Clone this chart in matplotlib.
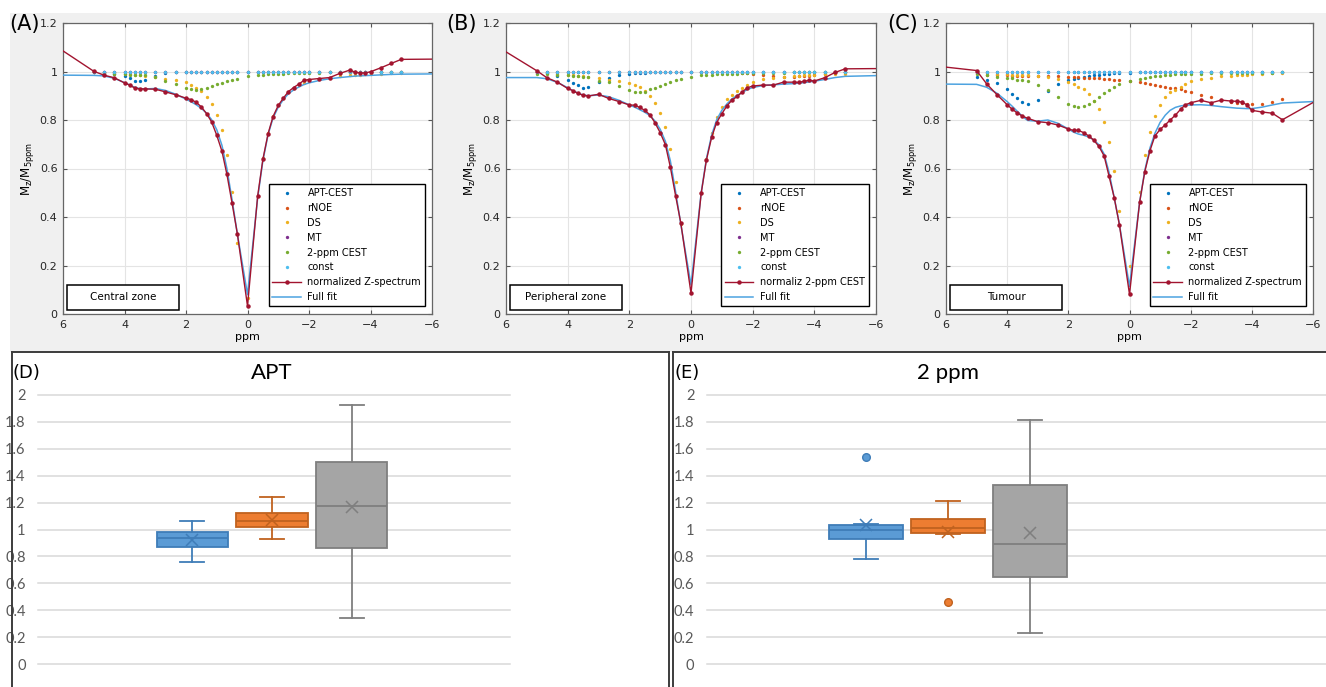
import matplotlib.pyplot as plt
import matplotlib.transforms as mtransforms
from matplotlib.lines import Line2D
from matplotlib.patches import Rectangle
from matplotlib.ticker import FuncFormatter

# offsets (ppm) of the Z-spectrum samples, + end points of the lines
ppm = [5, 4.67, 4.33, 4, 3.83, 3.67, 3.5, 3.33, 3, 2.67, 2.33, 2, 1.83, 1.67, 1.5,
       1.33, 1.17, 1, 0.83, 0.67, 0.5, 0.33, 0, -0.33, -0.5, -0.67, -0.83, -1, -1.17,
       -1.33, -1.5, -1.67, -1.83, -2, -2.33, -2.67, -3, -3.33, -3.5, -3.67, -3.83, -4,
       -4.33, -4.67, -5]
ppm_ends = [6, -6]

# ---- (A) central zone
z_a = [1.001, 0.985, 0.974, 0.953, 0.944, 0.932, 0.928, 0.928, 0.927, 0.916, 0.904, 0.890, 0.884, 0.873, 0.854,
       0.826, 0.793, 0.737, 0.671, 0.576, 0.456, 0.331, 0.033, 0.486, 0.638, 0.744, 0.814, 0.860, 0.891,
       0.917, 0.934, 0.948, 0.963, 0.967, 0.971, 0.975, 0.992, 1.006, 0.997, 0.994, 0.994, 0.999,
       1.015, 1.033, 1.050]
z_a_ends = [1.085, 1.051]
fit_a = [0.984, 0.982, 0.972, 0.954, 0.944, 0.935, 0.929, 0.928, 0.930, 0.922, 0.906, 0.886, 0.875, 0.863, 0.848,
         0.828, 0.802, 0.760, 0.695, 0.600, 0.470, 0.330, 0.080, 0.478, 0.632, 0.740, 0.808, 0.853, 0.885,
         0.908, 0.924, 0.936, 0.946, 0.953, 0.963, 0.970, 0.975, 0.979, 0.981, 0.982, 0.983, 0.984,
         0.986, 0.988, 0.989]
fit_a_ends = [0.985, 0.990]
apt_a = [1.0, 0.997, 0.989, 0.983, 0.972, 0.961, 0.959, 0.963, 0.983, 0.992, 0.996, 0.998, 0.999, 0.999, 0.999,
         1.0, 1.0, 1.0, 1.0, 1.0, 1.0, 1.0, 1.0, 1.0, 1.0, 1.0, 1.0, 1.0, 1.0,
         1.0, 1.0, 1.0, 1.0, 1.0, 1.0, 1.0, 1.0, 1.0, 1.0, 1.0, 1.0, 1.0,
         1.0, 1.0, 1.0]
rnoe_a = [1.0, 1.0, 1.0, 1.0, 1.0, 1.0, 1.0, 1.0, 1.0, 1.0, 1.0, 1.0, 1.0, 1.0, 1.0,
          1.0, 1.0, 1.0, 1.0, 1.0, 1.0, 1.0, 1.0, 1.0, 1.0, 1.0, 1.0, 0.999, 0.999,
          0.999, 0.998, 0.998, 0.998, 0.997, 0.997, 0.997, 0.997, 0.997, 0.997, 0.997, 0.998, 0.998,
          0.998, 0.999, 0.999]
ds_a = [0.996, 0.995, 0.993, 0.990, 0.988, 0.986, 0.984, 0.982, 0.977, 0.970, 0.965, 0.956, 0.944, 0.931, 0.918,
        0.895, 0.865, 0.822, 0.758, 0.657, 0.503, 0.293, 0.065, 0.486, 0.643, 0.747, 0.818, 0.860, 0.890,
        0.914, 0.930, 0.943, 0.952, 0.959, 0.969, 0.975, 0.980, 0.984, 0.986, 0.987, 0.988, 0.989,
        0.991, 0.992, 0.993]
mt_a = [1.0, 1.0, 1.0, 1.0, 1.0, 1.0, 1.0, 1.0, 1.0, 1.0, 1.0, 1.0, 1.0, 1.0, 1.0,
        1.0, 1.0, 1.0, 1.0, 1.0, 1.0, 1.0, 1.0, 1.0, 1.0, 1.0, 1.0, 1.0, 1.0,
        1.0, 1.0, 1.0, 1.0, 1.0, 1.0, 1.0, 1.0, 1.0, 1.0, 1.0, 1.0, 1.0,
        1.0, 1.0, 1.0]
cest_a = [0.996, 0.992, 0.990, 0.988, 0.987, 0.986, 0.985, 0.985, 0.976, 0.962, 0.948, 0.933, 0.928, 0.925, 0.926,
          0.934, 0.940, 0.947, 0.954, 0.961, 0.966, 0.971, 0.980, 0.985, 0.987, 0.988, 0.989, 0.990, 0.991,
          0.992, 0.993, 0.993, 0.994, 0.994, 0.995, 0.996, 0.996, 0.997, 0.997, 0.997, 0.997, 0.998,
          0.998, 0.998, 0.998]
const_a = [1.0, 1.0, 1.0, 1.0, 1.0, 1.0, 1.0, 1.0, 1.0, 1.0, 1.0, 1.0, 1.0, 1.0, 1.0,
           1.0, 1.0, 1.0, 1.0, 1.0, 1.0, 1.0, 1.0, 1.0, 1.0, 1.0, 1.0, 1.0, 1.0,
           1.0, 1.0, 1.0, 1.0, 1.0, 1.0, 1.0, 1.0, 1.0, 1.0, 1.0, 1.0, 1.0,
           1.0, 1.0, 1.0]

# ---- (B) peripheral zone
z_b = [1.003, 0.974, 0.956, 0.930, 0.921, 0.910, 0.902, 0.899, 0.906, 0.889, 0.876, 0.862, 0.861, 0.852, 0.840,
       0.821, 0.789, 0.748, 0.698, 0.606, 0.488, 0.375, 0.086, 0.497, 0.635, 0.729, 0.789, 0.826, 0.859,
       0.882, 0.897, 0.917, 0.933, 0.940, 0.944, 0.944, 0.956, 0.956, 0.955, 0.960, 0.963, 0.961,
       0.974, 0.996, 1.011]
z_b_ends = [1.081, 1.012]
fit_b = [0.975, 0.970, 0.955, 0.933, 0.921, 0.911, 0.903, 0.900, 0.903, 0.896, 0.881, 0.862, 0.853, 0.843, 0.832,
         0.818, 0.796, 0.762, 0.712, 0.632, 0.505, 0.370, 0.120, 0.500, 0.640, 0.738, 0.800, 0.840, 0.867,
         0.887, 0.902, 0.914, 0.926, 0.934, 0.942, 0.945, 0.948, 0.950, 0.952, 0.954, 0.957, 0.960,
         0.967, 0.975, 0.980]
fit_b_ends = [0.975, 0.983]
apt_b = [0.996, 0.992, 0.981, 0.963, 0.953, 0.943, 0.934, 0.937, 0.956, 0.975, 0.985, 0.990, 0.992, 0.994, 0.995,
         0.996, 0.997, 0.998, 0.998, 0.998, 0.999, 0.999, 0.999, 0.999, 0.999, 0.999, 0.999, 0.999, 0.999,
         0.999, 0.999, 0.999, 0.999, 0.999, 0.999, 0.999, 0.999, 0.999, 0.999, 0.999, 0.999, 0.999,
         0.999, 0.999, 0.999]
rnoe_b = [1.0, 1.0, 1.0, 1.0, 1.0, 1.0, 1.0, 1.0, 1.0, 1.0, 1.0, 1.0, 1.0, 1.0, 1.0,
          1.0, 1.0, 1.0, 1.0, 1.0, 1.0, 1.0, 1.0, 1.0, 1.0, 0.999, 0.999, 0.999, 0.998,
          0.997, 0.996, 0.994, 0.992, 0.990, 0.986, 0.982, 0.979, 0.979, 0.980, 0.981, 0.982, 0.984,
          0.988, 0.993, 0.997]
ds_b = [0.995, 0.993, 0.990, 0.986, 0.984, 0.982, 0.980, 0.978, 0.972, 0.964, 0.962, 0.953, 0.946, 0.935, 0.920,
        0.897, 0.870, 0.828, 0.770, 0.681, 0.544, 0.370, 0.141, 0.500, 0.639, 0.745, 0.814, 0.855, 0.886,
        0.905, 0.919, 0.930, 0.945, 0.957, 0.970, 0.975, 0.978, 0.981, 0.983, 0.984, 0.985, 0.986,
        0.988, 0.990, 0.991]
mt_b = [1.0, 1.0, 1.0, 1.0, 1.0, 1.0, 1.0, 1.0, 1.0, 1.0, 1.0, 1.0, 1.0, 1.0, 1.0,
        1.0, 1.0, 1.0, 1.0, 1.0, 1.0, 1.0, 1.0, 1.0, 1.0, 1.0, 1.0, 1.0, 1.0,
        1.0, 1.0, 1.0, 1.0, 1.0, 1.0, 1.0, 1.0, 1.0, 1.0, 1.0, 1.0, 1.0,
        1.0, 1.0, 1.0]
cest_b = [0.990, 0.988, 0.985, 0.984, 0.982, 0.980, 0.978, 0.976, 0.962, 0.956, 0.940, 0.923, 0.917, 0.914, 0.917,
          0.927, 0.934, 0.942, 0.949, 0.956, 0.965, 0.970, 0.979, 0.984, 0.986, 0.987, 0.988, 0.989, 0.990,
          0.991, 0.991, 0.992, 0.992, 0.993, 0.994, 0.995, 0.995, 0.996, 0.996, 0.996, 0.997, 0.997,
          0.997, 0.998, 0.998]
const_b = [1.0, 1.0, 1.0, 1.0, 1.0, 1.0, 1.0, 1.0, 1.0, 1.0, 1.0, 1.0, 1.0, 1.0, 1.0,
           1.0, 1.0, 1.0, 1.0, 1.0, 1.0, 1.0, 1.0, 1.0, 1.0, 1.0, 1.0, 1.0, 1.0,
           1.0, 1.0, 1.0, 1.0, 1.0, 1.0, 1.0, 1.0, 1.0, 1.0, 1.0, 1.0, 1.0,
           1.0, 1.0, 1.0]

# ---- (C) tumour
z_c = [1.004, 0.949, 0.904, 0.863, 0.844, 0.829, 0.816, 0.807, 0.793, 0.789, 0.779, 0.763, 0.757, 0.757, 0.748,
       0.734, 0.717, 0.691, 0.652, 0.569, 0.480, 0.368, 0.081, 0.460, 0.587, 0.674, 0.734, 0.761, 0.780,
       0.800, 0.820, 0.844, 0.863, 0.871, 0.881, 0.871, 0.882, 0.878, 0.877, 0.874, 0.863, 0.840,
       0.833, 0.828, 0.801]
z_c_ends = [1.018, 0.872]
fit_c = [0.947, 0.935, 0.910, 0.876, 0.856, 0.836, 0.815, 0.798, 0.795, 0.800, 0.786, 0.763, 0.750, 0.742, 0.737,
         0.730, 0.718, 0.698, 0.660, 0.585, 0.480, 0.370, 0.114, 0.460, 0.592, 0.685, 0.745, 0.790, 0.820,
         0.840, 0.852, 0.858, 0.861, 0.862, 0.863, 0.860, 0.855, 0.851, 0.849, 0.848, 0.847, 0.847,
         0.853, 0.862, 0.870]
fit_c_ends = [0.948, 0.876]
apt_c = [0.977, 0.966, 0.951, 0.926, 0.908, 0.890, 0.875, 0.867, 0.883, 0.918, 0.947, 0.963, 0.970, 0.975, 0.979,
         0.982, 0.985, 0.987, 0.989, 0.990, 0.992, 0.993, 0.995, 0.996, 0.996, 0.996, 0.996, 0.996, 0.997,
         0.997, 0.997, 0.997, 0.997, 0.997, 0.997, 0.997, 0.998, 0.998, 0.998, 0.998, 0.998, 0.998,
         0.998, 0.998, 0.998]
rnoe_c = [0.992, 0.986, 0.985, 0.984, 0.983, 0.983, 0.982, 0.982, 0.982, 0.982, 0.980, 0.978, 0.977, 0.976, 0.975,
          0.974, 0.973, 0.972, 0.970, 0.968, 0.966, 0.963, 0.960, 0.956, 0.952, 0.948, 0.944, 0.941, 0.937,
          0.933, 0.930, 0.926, 0.921, 0.916, 0.904, 0.894, 0.884, 0.874, 0.872, 0.870, 0.868, 0.864,
          0.864, 0.874, 0.885]
ds_c = [0.998, 0.993, 0.990, 0.988, 0.987, 0.986, 0.985, 0.984, 0.981, 0.977, 0.970, 0.956, 0.948, 0.937, 0.926,
        0.907, 0.880, 0.846, 0.791, 0.711, 0.588, 0.423, 0.199, 0.505, 0.654, 0.752, 0.818, 0.863, 0.893,
        0.915, 0.923, 0.935, 0.948, 0.960, 0.970, 0.975, 0.980, 0.982, 0.985, 0.986, 0.987, 0.988,
        0.990, 0.992, 0.993]
mt_c = [1.0, 1.0, 1.0, 1.0, 1.0, 1.0, 1.0, 1.0, 1.0, 1.0, 1.0, 1.0, 1.0, 1.0, 1.0,
        1.0, 1.0, 1.0, 1.0, 1.0, 1.0, 1.0, 1.0, 1.0, 1.0, 1.0, 1.0, 1.0, 1.0,
        1.0, 1.0, 1.0, 1.0, 1.0, 1.0, 1.0, 1.0, 1.0, 1.0, 1.0, 1.0, 1.0,
        1.0, 1.0, 1.0]
cest_c = [0.989, 0.985, 0.979, 0.974, 0.972, 0.967, 0.964, 0.960, 0.945, 0.925, 0.894, 0.864, 0.856, 0.853, 0.857,
          0.866, 0.878, 0.896, 0.910, 0.925, 0.938, 0.948, 0.961, 0.971, 0.975, 0.978, 0.980, 0.983, 0.985,
          0.987, 0.988, 0.989, 0.990, 0.990, 0.991, 0.992, 0.993, 0.993, 0.994, 0.994, 0.994, 0.995,
          0.995, 0.995, 0.996]
const_c = [0.999, 0.999, 0.999, 0.999, 0.999, 0.999, 0.999, 0.999, 0.999, 0.999, 0.999, 0.999, 0.999, 0.999, 0.999,
           0.999, 0.999, 0.999, 0.999, 0.999, 0.999, 0.999, 0.999, 0.999, 0.999, 0.999, 0.999, 0.999, 0.999,
           0.999, 0.999, 0.999, 0.999, 0.999, 0.999, 0.999, 0.999, 0.999, 0.999, 0.999, 0.999, 0.999,
           0.999, 0.999, 0.999]

comp_labels = ['APT-CEST', 'rNOE', 'DS', 'MT', '2-ppm CEST', 'const']
comp_colors = ['#0072BD', '#D95319', '#EDB120', '#7E2F8E', '#77AC30', '#4DBEEE']

# ---- box plots (D) APT and (E) 2 ppm : central zone, peripheral zone, tumour
apt_whislo = [0.760, 0.933, 0.339]
apt_q1 = [0.869, 1.017, 0.859]
apt_med = [0.936, 1.062, 1.176]
apt_q3 = [0.980, 1.126, 1.500]
apt_whishi = [1.062, 1.238, 1.926]
apt_mean = [0.923, 1.069, 1.171]
apt_fliers = [[], [], []]

p2_whislo = [0.782, 0.966, 0.229]
p2_q1 = [0.929, 0.974, 0.645]
p2_med = [0.996, 1.014, 0.894]
p2_q3 = [1.031, 1.076, 1.333]
p2_whishi = [1.038, 1.213, 1.813]
p2_mean = [1.031, 0.979, 0.974]
p2_fliers = [[1.537], [0.461], []]

box_fill = ['#5B9BD5', '#ED7D31', '#A5A5A5']
box_edge = ['#3F7DB8', '#C0621F', '#7F7F7F']

W, H = 1326, 687
fig = plt.figure(figsize=(W / 100, H / 100), dpi=100)


def px_axes(l, t, r, b):
    return fig.add_axes([l / W, 1 - b / H, (r - l) / W, (b - t) / H])


def fig_line(x0, y0, x1, y1):
    fig.add_artist(Line2D([x0 / W, x1 / W], [1 - y0 / H, 1 - y1 / H], transform=fig.transFigure,
                          color='#3c3c3c', lw=1.4, zorder=5))


# fond gris des figures matlab
fig.add_artist(Rectangle((10 / W, 1 - 352 / H), 1 - 10 / W, (352 - 13) / H, transform=fig.transFigure,
                         facecolor='#f0f0f0', edgecolor='none', zorder=-1))


def z_panel(rect, tag, tag_x, zone, z, z_ends, fit, fit_ends, comps, z_label):
    ax = px_axes(*rect)
    aw = rect[2] - rect[0]
    ah = rect[3] - rect[1]
    for vals, col, lab in zip(comps, comp_colors, comp_labels):
        ax.plot(ppm, vals, 'o', ms=2.4, mew=0, color=col, label=lab, zorder=2)
    x_line = [ppm_ends[0]] + ppm + [ppm_ends[1]]
    ax.plot(x_line, [z_ends[0]] + z + [z_ends[1]], color='#A2142F', lw=1, marker='o', ms=2.2,
            markevery=list(range(1, len(ppm) + 1)), label=z_label, zorder=4)
    ax.plot(x_line, [fit_ends[0]] + fit + [fit_ends[1]], color='#4DA3E0', lw=1.1, label='Full fit', zorder=3)

    ax.set_xlim(6, -6)
    ax.set_ylim(0, 1.2)
    ax.set_xticks([6, 4, 2, 0, -2, -4, -6])
    ax.set_yticks([0, 0.2, 0.4, 0.6, 0.8, 1, 1.2])
    ax.yaxis.set_major_formatter(FuncFormatter(lambda v, p: '%g' % round(v, 1)))
    ax.grid(color='#e4e4e4', lw=0.8)
    ax.set_axisbelow(True)
    ax.tick_params(direction='in', length=3, top=True, right=True, labelsize=8, labelcolor='#262626',
                   color='#555555', pad=4)
    for s in ax.spines.values():
        s.set_color('#666666')
        s.set_linewidth(0.9)
    ax.set_xlabel('ppm', fontsize=8, labelpad=2)
    ax.set_ylabel(r'M$_\mathregular{z}$/M$_\mathregular{5ppm}$', fontsize=8.5, labelpad=3)

    leg = ax.legend(loc='lower right', bbox_to_anchor=(1 - 7 / aw, 8 / ah), fontsize=7, frameon=True,
                    fancybox=False, edgecolor='black', framealpha=1, borderpad=0.4, labelspacing=0.5,
                    handlelength=2.9, handletextpad=0.7, borderaxespad=0, numpoints=1)
    leg.get_frame().set_linewidth(1.0)

    ax.add_patch(Rectangle((4 / aw, 4 / ah), 112 / aw, 25 / ah, transform=ax.transAxes,
                           facecolor='white', edgecolor='black', lw=1.1, zorder=5))
    ax.text(60 / aw, 16.5 / ah, zone, transform=ax.transAxes, ha='center', va='center', fontsize=7.5, zorder=6)
    fig.text(tag_x / W, 1 - 24 / H, tag, fontsize=15, ha='left', va='center')
    return ax


z_panel((63, 23, 432, 314), '(A)', 9, 'Central zone', z_a, z_a_ends, fit_a, fit_a_ends,
        [apt_a, rnoe_a, ds_a, mt_a, cest_a, const_a], 'normalized Z-spectrum')
z_panel((506, 23, 876, 314), '(B)', 446, 'Peripheral zone', z_b, z_b_ends, fit_b, fit_b_ends,
        [apt_b, rnoe_b, ds_b, mt_b, cest_b, const_b], 'normaliz 2-ppm CEST')
z_panel((946, 23, 1313, 314), '(C)', 887, 'Tumour', z_c, z_c_ends, fit_c, fit_c_ends,
        [apt_c, rnoe_c, ds_c, mt_c, cest_c, const_c], 'normalized Z-spectrum')


def box_panel(rect, xlim, tag, tag_x, title, whislo, q1, med, q3, whishi, mean, fliers):
    ax = px_axes(*rect)
    pos = [-1, 0, 1]
    for i in range(3):
        st = dict(whislo=whislo[i], q1=q1[i], med=med[i], q3=q3[i], whishi=whishi[i],
                  mean=mean[i], fliers=fliers[i])
        ax.bxp([st], positions=[pos[i]], widths=0.9, capwidths=0.3, showmeans=True, patch_artist=True,
               manage_ticks=False,
               boxprops=dict(facecolor=box_fill[i], edgecolor=box_edge[i], lw=1.3),
               medianprops=dict(color=box_edge[i], lw=1.3),
               whiskerprops=dict(color=box_edge[i], lw=1.3),
               capprops=dict(color=box_edge[i], lw=1.3),
               meanprops=dict(marker='x', markeredgecolor=box_edge[i], ms=9, mew=1.1),
               flierprops=dict(marker='o', markerfacecolor=box_fill[i], markeredgecolor=box_edge[i], ms=5.5))
    ax.set_xlim(*xlim)
    ax.set_ylim(0, 2)
    ax.set_yticks([0, 0.2, 0.4, 0.6, 0.8, 1, 1.2, 1.4, 1.6, 1.8, 2])
    ax.yaxis.set_major_formatter(FuncFormatter(lambda v, p: '%g' % round(v, 1)))
    ax.set_xticks([])
    ax.grid(axis='y', color='#d9d9d9', lw=1.1)
    for gl in ax.get_ygridlines():
        gl.set_clip_on(False)
    ax.set_axisbelow(True)
    ax.tick_params(axis='y', length=0, pad=9, labelsize=10.5, labelcolor='#595959')
    for lab in ax.get_yticklabels():
        lab.set_family('Lato')
    for s in ax.spines.values():
        s.set_visible(False)
    tr = mtransforms.blended_transform_factory(ax.transData, ax.transAxes)
    ax.text(0, 1.082, title, transform=tr, ha='center', va='center', fontsize=16, family='Lato')
    fig.text(tag_x / W, 1 - 373 / H, tag, fontsize=13, ha='left', va='center')
    return ax


box_panel((38, 395, 510, 664), (-2.94, 2.99), '(D)', 13, 'APT',
          apt_whislo, apt_q1, apt_med, apt_q3, apt_whishi, apt_mean, apt_fliers)
box_panel((707, 395, 1326, 664), (-2.94, 4.61), '(E)', 675, '2 ppm',
          p2_whislo, p2_q1, p2_med, p2_q3, p2_whishi, p2_mean, p2_fliers)

# cadres des panneaux du bas
fig_line(11.5, 352, 11.5, 687)
fig_line(11.5, 352, 669, 352)
fig_line(669, 352, 669, 687)
fig_line(673, 352, 673, 687)
fig_line(673, 352, 1326, 352)

fig.savefig('out.png', dpi=100, facecolor='white')
